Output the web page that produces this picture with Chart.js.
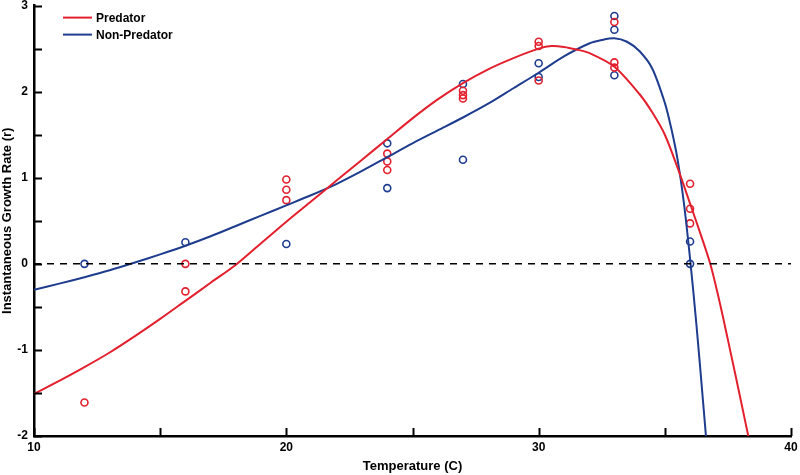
<!DOCTYPE html>
<html>
<head>
<meta charset="utf-8">
<script src="https://cdn.jsdelivr.net/npm/chart.js@4/dist/chart.umd.min.js"></script>
<style>
  html, body { margin: 0; padding: 0; background: #fff; }
  #wrap { width: 800px; height: 475px; }
</style>
</head>
<body>
<div id="wrap"><canvas id="growthChart"></canvas></div>
<script>
// observed growth rates
const predTemp = [12, 16, 16, 20, 20, 20, 24, 24, 24, 27, 27, 27, 30, 30, 30, 33, 33, 33, 36, 36, 36];
const predRate = [-1.61, 0, -0.32, 0.98, 0.86, 0.74, 1.28, 1.19, 1.09, 2.01, 1.96, 1.92, 2.58, 2.53, 2.13, 2.81, 2.34, 2.28, 0.93, 0.64, 0.47];
const nonTemp = [12, 16, 20, 24, 24, 27, 27, 30, 30, 33, 33, 33, 36, 36];
const nonRate = [0, 0.25, 0.23, 1.40, 0.88, 2.09, 1.21, 2.33, 2.17, 2.88, 2.72, 2.19, 0.26, 0];

// fitted curves
const predFitTemp = [10, 11, 12, 13, 14, 15, 16, 17, 18, 19, 20, 21, 22, 23, 24, 25, 26, 27, 28, 29, 30, 30.5, 31, 31.5, 32, 33, 34, 34.5, 35, 35.5, 36, 36.4, 36.8, 37.2, 37.6, 38, 38.4];
const predFitRate = [-1.51, -1.36, -1.20, -1.03, -0.84, -0.64, -0.43, -0.22, -0.01, 0.24, 0.49, 0.73, 0.97, 1.21, 1.45, 1.69, 1.91, 2.10, 2.26, 2.39, 2.50, 2.53, 2.52, 2.49, 2.45, 2.29, 1.97, 1.76, 1.50, 1.12, 0.70, 0.36, 0.0, -0.48, -1.02, -1.57, -2.13];
const nonFitTemp = [10, 11, 12, 13, 14, 15, 16, 17, 18, 19, 20, 21, 22, 23, 24, 25, 26, 27, 28, 29, 30, 31, 32, 32.5, 33, 33.5, 34, 34.5, 35, 35.25, 35.5, 35.75, 36, 36.25, 36.5, 36.7];
const nonFitRate = [-0.30, -0.23, -0.155, -0.075, 0.015, 0.11, 0.21, 0.32, 0.44, 0.56, 0.68, 0.80, 0.93, 1.08, 1.24, 1.40, 1.55, 1.70, 1.86, 2.04, 2.22, 2.41, 2.56, 2.60, 2.62, 2.58, 2.47, 2.27, 1.87, 1.58, 1.22, 0.72, 0.06, -0.70, -1.55, -2.25];

const xTicks = [10, 20, 30, 40];
const yTicks = [-2, -1, 0, 1, 2, 3];

const RED = '#e3202e';
const BLUE = '#1f3d8f';
const FONT = 'Liberation Sans, Arial, sans-serif';

const toPts = (xs, ys) => xs.map((x, i) => ({ x: x, y: ys[i] }));

// legend inside the plot + inward tick marks (matlab style)
const extras = {
    id: 'extras',
    afterDraw(chart) {
        const ctx = chart.ctx;
        const area = chart.chartArea;
        const xs = chart.scales.x;
        const ys = chart.scales.y;
        ctx.save();
        ctx.strokeStyle = '#000';
        ctx.lineWidth = 2;
        for (let v = -2; v <= 3.001; v += 0.5) {
            const py = Math.round(ys.getPixelForValue(v)) + 0.5;
            ctx.beginPath();
            ctx.moveTo(area.left, py);
            ctx.lineTo(area.left + 8, py);
            ctx.stroke();
        }
        for (let v = 10; v <= 40; v += 5) {
            const px = Math.round(xs.getPixelForValue(v)) + 0.5;
            ctx.beginPath();
            ctx.moveTo(px, area.bottom);
            ctx.lineTo(px, area.bottom - 8);
            ctx.stroke();
        }

        const items = [['Predator', RED], ['Non-Predator', BLUE]];
        ctx.font = 'bold 12px ' + FONT;
        ctx.textBaseline = 'middle';
        ctx.textAlign = 'left';
        items.forEach((it, i) => {
            const y = area.top + 12 + i * 17;
            ctx.strokeStyle = it[1];
            ctx.lineWidth = 2;
            ctx.beginPath();
            ctx.moveTo(area.left + 29, y);
            ctx.lineTo(area.left + 58, y);
            ctx.stroke();
            ctx.fillStyle = '#000';
            ctx.fillText(it[0], area.left + 62, y + 1);
        });
        ctx.restore();
    }
};

const ctx = document.getElementById('growthChart').getContext('2d');
new Chart(ctx, {
    type: 'scatter',
    data: {
        datasets: [
            {
                label: 'zero',
                data: toPts([10, 40], [0, 0]),
                showLine: true,
                borderColor: '#000',
                borderWidth: 1.5,
                borderDash: [7, 6],
                pointRadius: 0
            },
            {
                label: 'Predator',
                data: toPts(predFitTemp, predFitRate),
                showLine: true,
                borderColor: RED,
                borderWidth: 2,
                tension: 0.3,
                pointRadius: 0
            },
            {
                label: 'Non-Predator',
                data: toPts(nonFitTemp, nonFitRate),
                showLine: true,
                borderColor: BLUE,
                borderWidth: 2,
                tension: 0.3,
                pointRadius: 0
            },
            {
                label: 'Predator obs',
                data: toPts(predTemp, predRate),
                pointRadius: 3.5,
                pointBorderWidth: 1.6,
                borderColor: RED,
                backgroundColor: 'rgba(0,0,0,0)'
            },
            {
                label: 'Non-Predator obs',
                data: toPts(nonTemp, nonRate),
                pointRadius: 3.5,
                pointBorderWidth: 1.6,
                borderColor: BLUE,
                backgroundColor: 'rgba(0,0,0,0)'
            }
        ]
    },
    options: {
        responsive: true,
        maintainAspectRatio: false,
        animation: false,
        layout: { padding: { top: 5, right: 9, left: 0, bottom: 0 } },
        plugins: {
            legend: { display: false },
            tooltip: { enabled: false }
        },
        scales: {
            x: {
                type: 'linear',
                min: 10,
                max: 40,
                afterFit: s => { s.height = 39; s.paddingLeft = 0; s.paddingRight = 0; },
                afterBuildTicks: s => { s.ticks = xTicks.map(v => ({ value: v })); },
                grid: { display: false, drawTicks: false },
                border: { color: '#000', width: 2.5 },
                ticks: {
                    padding: 4,
                    color: '#000',
                    font: { family: FONT, size: 12, weight: 'bold' }
                },
                title: {
                    display: true,
                    text: 'Temperature (C)',
                    color: '#000',
                    padding: { top: 2, bottom: 1 },
                    font: { family: FONT, size: 13, weight: 'bold' }
                }
            },
            y: {
                type: 'linear',
                min: -2,
                max: 3,
                afterFit: s => { s.width = 34; s.paddingTop = 0; s.paddingBottom = 0; },
                afterBuildTicks: s => { s.ticks = yTicks.map(v => ({ value: v })); },
                grid: { display: false, drawTicks: false },
                border: { color: '#000', width: 2.5 },
                ticks: {
                    padding: 6,
                    color: '#000',
                    font: { family: FONT, size: 12, weight: 'bold' }
                },
                title: {
                    display: true,
                    text: 'Instantaneous Growth Rate (r)',
                    color: '#000',
                    padding: { top: 0, bottom: 0 },
                    font: { family: FONT, size: 13, weight: 'bold' }
                }
            }
        }
    },
    plugins: [extras]
});
</script>
</body>
</html>
